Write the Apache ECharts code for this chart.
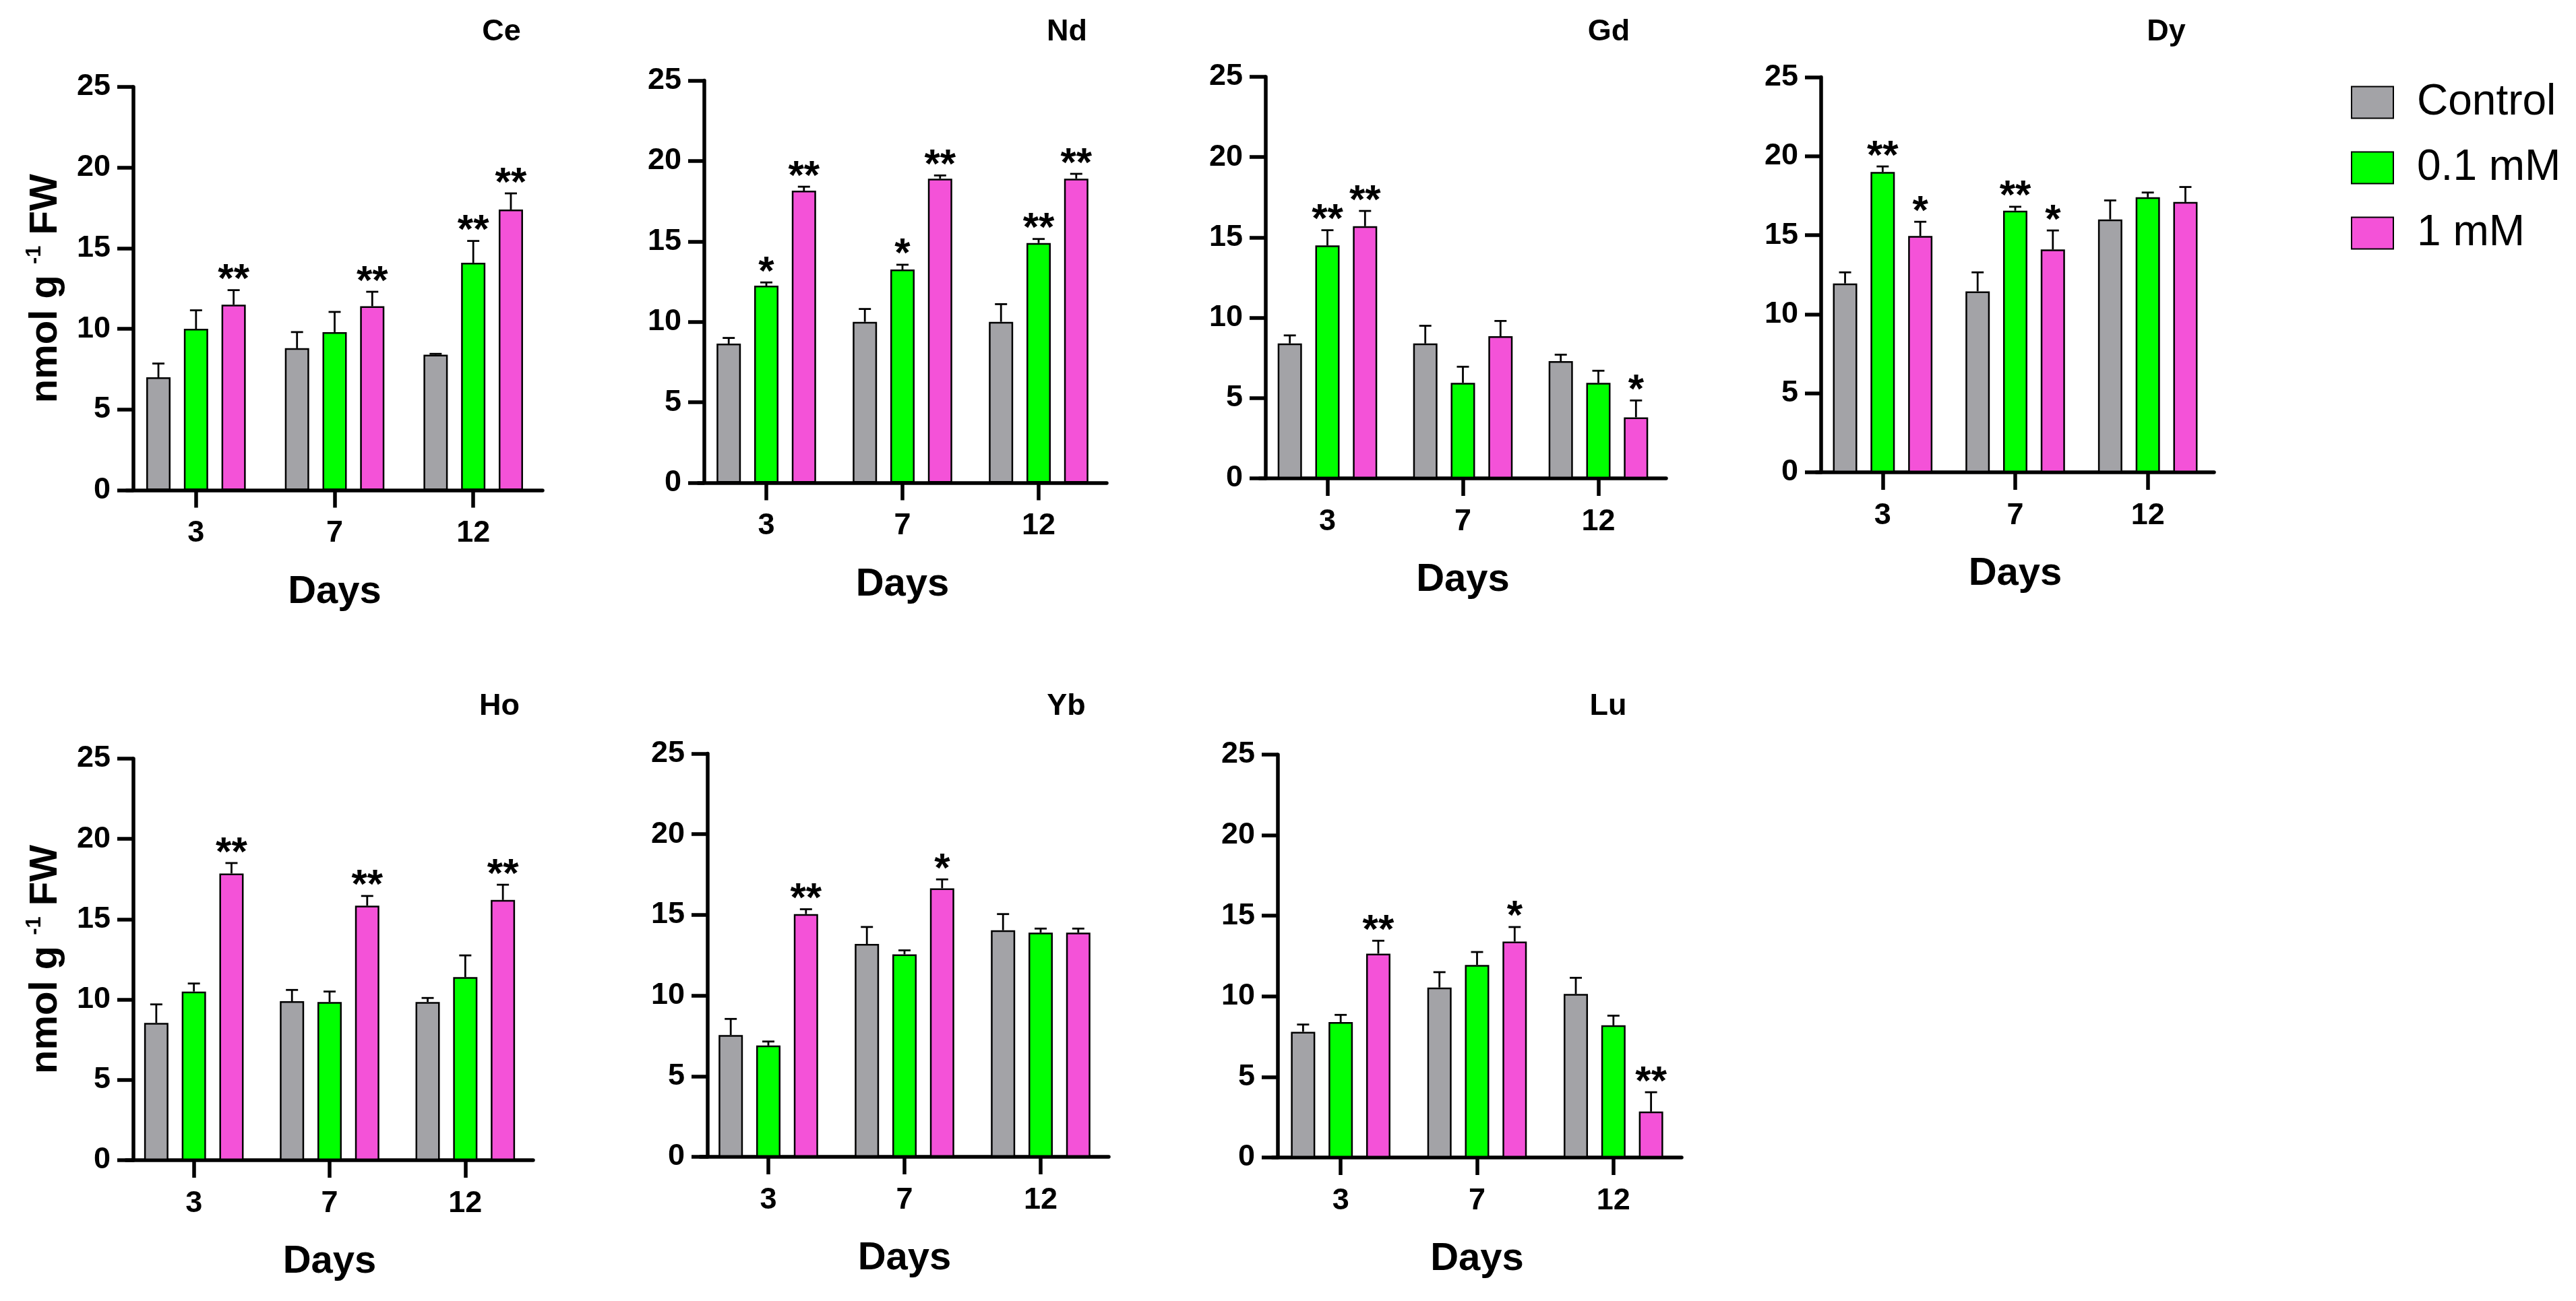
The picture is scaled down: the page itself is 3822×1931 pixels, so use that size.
<!DOCTYPE html>
<html>
<head>
<meta charset="utf-8">
<title>REE content</title>
<script src="https://cdn.jsdelivr.net/npm/echarts@6.0.0/dist/echarts.min.js"></script>
<style>
html, body { margin: 0; padding: 0; background: #fff; }
#main { width: 3822px; height: 1931px; }
</style>
</head>
<body>
<div id="main"></div>
<script>
// x categories and series
var days = ['3', '7', '12'];
var groups = ['Control', '0.1 mM', '1 mM'];
var colors = ['#a3a3a7', '#00ff00', '#f452d8'];

// per element: rows = Control, 0.1 mM, 1 mM ; columns = day 3, 7, 12
var ceMean = [[7.0, 8.8, 8.4], [10.0, 9.8, 14.1], [11.5, 11.4, 17.4]];
var ceErr  = [[0.85, 1.0, 0.05], [1.15, 1.25, 1.35], [0.9, 0.9, 1.0]];
var ceSig  = [['', '', ''], ['', '', '**'], ['**', '**', '**']];

var ndMean = [[8.65, 10.0, 10.0], [12.25, 13.25, 14.9], [18.15, 18.9, 18.9]];
var ndErr  = [[0.35, 0.8, 1.1], [0.2, 0.3, 0.25], [0.25, 0.2, 0.3]];
var ndSig  = [['', '', ''], ['*', '*', '**'], ['**', '**', '**']];

var gdMean = [[8.4, 8.4, 7.3], [14.5, 5.95, 5.95], [15.7, 8.85, 3.8]];
var gdErr  = [[0.5, 1.1, 0.4], [0.95, 1.0, 0.75], [0.95, 0.95, 1.05]];
var gdSig  = [['', '', ''], ['**', '', ''], ['**', '', '*']];

var dyMean = [[11.95, 11.45, 16.0], [19.0, 16.55, 17.4], [14.95, 14.1, 17.1]];
var dyErr  = [[0.7, 1.2, 1.2], [0.35, 0.25, 0.3], [0.9, 1.2, 0.95]];
var dySig  = [['', '', ''], ['**', '**', ''], ['*', '*', '']];

var hoMean = [[8.55, 9.9, 9.85], [10.5, 9.85, 11.4], [17.85, 15.85, 16.2]];
var hoErr  = [[1.15, 0.7, 0.25], [0.5, 0.65, 1.35], [0.65, 0.6, 0.95]];
var hoSig  = [['', '', ''], ['', '', ''], ['**', '**', '**']];

var ybMean = [[7.55, 13.2, 14.05], [6.9, 12.55, 13.9], [15.05, 16.65, 13.9]];
var ybErr  = [[1.0, 1.05, 1.0], [0.25, 0.25, 0.25], [0.3, 0.55, 0.25]];
var ybSig  = [['', '', ''], ['', '', ''], ['**', '*', '']];

var luMean = [[7.8, 10.55, 10.15], [8.4, 11.95, 8.2], [12.65, 13.4, 2.85]];
var luErr  = [[0.45, 0.95, 1.0], [0.45, 0.8, 0.6], [0.8, 0.9, 1.2]];
var luSig  = [['', '', ''], ['', '', ''], ['**', '*', '**']];

// y axis ticks
var yMin = 0, yMax = 25, yStep = 5;

var font = 'Liberation Sans, Arial, sans-serif';
var barW = 36, gapRatio = 0.55, capHalf = 9;
var step = barW * (1 + gapRatio);

// panel placement (pixels)
var panels = [
    {name: 'Ce', mean: ceMean, err: ceErr, sig: ceSig, left: 188, right: 805, top: 129, bottom: 727.5, yOff: -10, tx: 744, ty: 48, yName: true},
    {name: 'Nd', mean: ndMean, err: ndErr, sig: ndSig, left: 1036, right: 1642, top: 119.5, bottom: 716.5, yOff: -9, tx: 1583, ty: 48},
    {name: 'Gd', mean: gdMean, err: gdErr, sig: gdSig, left: 1869, right: 2472, top: 114, bottom: 710, yOff: -9, tx: 2387, ty: 48},
    {name: 'Dy', mean: dyMean, err: dyErr, sig: dySig, left: 2695, right: 3285, top: 114.5, bottom: 701, yOff: -7, tx: 3214, ty: 48},
    {name: 'Ho', mean: hoMean, err: hoErr, sig: hoSig, left: 187, right: 791, top: 1126, bottom: 1722, yOff: -11, tx: 741, ty: 1049, yName: true},
    {name: 'Yb', mean: ybMean, err: ybErr, sig: ybSig, left: 1039, right: 1645, top: 1118.5, bottom: 1717, yOff: -11, tx: 1582, ty: 1049},
    {name: 'Lu', mean: luMean, err: luErr, sig: luSig, left: 1888, right: 2495, top: 1120, bottom: 1718, yOff: -8, tx: 2386, ty: 1049}
];

var axisLine = {show: true, lineStyle: {color: '#000', width: 5.5}};
var tickStyle = {color: '#000', width: 5.5};
var labelStyle = {fontSize: 45, fontWeight: 'bold', color: '#000', fontFamily: font};

var grids = [], xAxes = [], yAxes = [], series = [], titles = [];

panels.forEach(function (p, i) {
    grids.push({left: p.left, top: p.top, width: p.right - p.left, height: p.bottom - p.top});

    xAxes.push({
        type: 'category', gridIndex: i, data: days,
        axisLine: axisLine,
        axisTick: {show: true, alignWithLabel: true, length: 26, lineStyle: tickStyle},
        axisLabel: Object.assign({margin: 42}, labelStyle),
        name: 'Days', nameLocation: 'middle', nameGap: 122, nameMoveOverlap: false,
        nameTextStyle: {fontSize: 58, fontWeight: 'bold', color: '#000', fontFamily: font}
    });

    yAxes.push({
        type: 'value', gridIndex: i, min: yMin, max: yMax, interval: yStep, offset: p.yOff,
        axisLine: axisLine,
        axisTick: {show: true, length: 24, lineStyle: tickStyle},
        splitLine: {show: false},
        axisLabel: Object.assign({margin: 34}, labelStyle),
        name: p.yName ? '{a|nmol g }{s|-1}{a| FW}' : '',
        nameLocation: 'middle', nameRotate: 90, nameGap: 98, nameMoveOverlap: false,
        nameTextStyle: {
            color: '#000', fontFamily: font,
            rich: {
                a: {fontSize: 58, fontWeight: 'bold', lineHeight: 64, color: '#000', fontFamily: font},
                s: {fontSize: 31, fontWeight: 'bold', lineHeight: 26, verticalAlign: 'top', color: '#000', fontFamily: font}
            }
        }
    });

    groups.forEach(function (g, k) {
        series.push({
            type: 'bar', name: g, xAxisIndex: i, yAxisIndex: i,
            data: p.mean[k], barWidth: barW, barGap: (gapRatio * 100) + '%',
            itemStyle: {color: colors[k], borderColor: '#000', borderWidth: 2.5},
            emphasis: {disabled: true}
        });
    });

    // error bars + significance marks
    var recs = [], sigs = [];
    for (var k = 0; k < 3; k++) {
        for (var c = 0; c < 3; c++) {
            recs.push([c, k, p.mean[k][c], p.err[k][c]]);
            sigs.push(p.sig[k][c]);
        }
    }
    series.push({
        type: 'custom', xAxisIndex: i, yAxisIndex: i, z: 5,
        data: recs, encode: {x: 0, y: 2},
        renderItem: function (params, api) {
            var c = api.value(0), k = api.value(1), m = api.value(2), e = api.value(3);
            var base = api.coord([c, m]);
            var top = api.coord([c, m + e]);
            var x = base[0] + (k - 1) * step;
            var kids = [
                {type: 'line', shape: {x1: x, y1: base[1], x2: x, y2: top[1]}, style: {stroke: '#000', lineWidth: 2.8}},
                {type: 'line', shape: {x1: x - capHalf, y1: top[1], x2: x + capHalf, y2: top[1]}, style: {stroke: '#000', lineWidth: 2.8}}
            ];
            var s = sigs[params.dataIndex];
            if (s) {
                kids.push({type: 'text', x: x, y: top[1] + 16,
                    style: {text: s, fontSize: 60, fontWeight: 'bold', fontFamily: font, fill: '#000', align: 'center', verticalAlign: 'bottom'}});
            }
            return {type: 'group', children: kids};
        }
    });

    titles.push({type: 'text', x: p.tx, y: p.ty,
        style: {text: p.name, fontSize: 45, fontWeight: 'bold', fontFamily: font, fill: '#000', align: 'center', verticalAlign: 'middle'}});
});

var myChart = echarts.init(document.getElementById('main'));
var option = {
    backgroundColor: '#fff',
    animation: false,
    legend: {
        data: groups, orient: 'vertical', left: 3488, top: 120, padding: 0,
        itemWidth: 62, itemHeight: 47, itemGap: 33, icon: 'rect', selectedMode: false,
        textStyle: {fontSize: 64, color: '#000', fontFamily: font, lineHeight: 48, padding: [0, 0, 0, 30]}
    },
    grid: grids,
    xAxis: xAxes,
    yAxis: yAxes,
    graphic: titles,
    series: series
};
myChart.setOption(option, true);
</script>
</body>
</html>
